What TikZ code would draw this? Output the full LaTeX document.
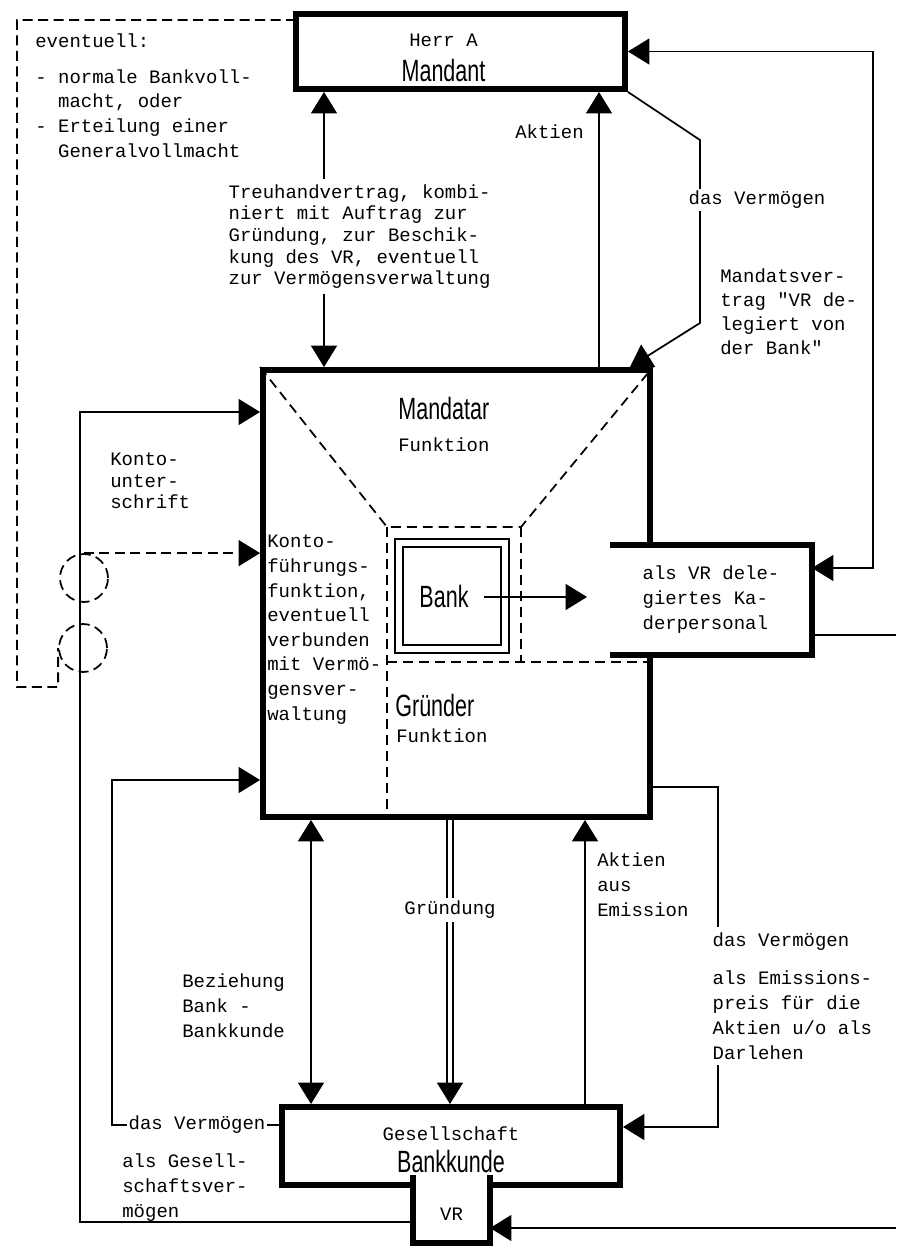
\documentclass[tikz,border=0pt]{standalone}
\usepackage{fontspec}
\setmainfont{Liberation Mono}[Ligatures=TeXOff]
\newfontfamily\condsans[FakeStretch=0.7]{Liberation Sans}
\usetikzlibrary{positioning, arrows.meta, calc}
\newcommand{\sansbig}{\condsans\fontsize{17.5}{20}\selectfont}
\tikzset{
  box/.style  = {rectangle, draw, line width=3.4pt, inner sep=0pt},
  open/.style = {rectangle, draw=none, fill=white, inner sep=0pt, outer sep=0pt},
  rim/.style  = {line width=3.4pt},
  txt/.style  = {inner sep=0pt, align=left, font=\fontsize{10.8}{14.2}\selectfont},
  lbl/.style  = {txt, fill=white, inner sep=3pt},
  ln/.style   = {line width=1pt},
  dsh/.style  = {line width=1pt, dash pattern=on 0.2cm off 0.11cm},
  ar/.style   = {-{Triangle[length=0.43cm,width=0.52cm]}, line width=1pt},
  bar/.style  = {{Triangle[length=0.43cm,width=0.52cm]}-{Triangle[length=0.43cm,width=0.52cm]}, line width=1pt},
  dar/.style  = {ar, dsh},
  zone/.style = {line width=1pt, dash pattern=on 0.2cm off 0.12cm},
  ring/.style = {circle, draw, dsh, minimum size=0.96cm, inner sep=0pt},
  bankbox/.style = {rectangle, draw, double, double distance=0.12cm, line width=1pt,
                    inner sep=0pt, minimum width=2.13cm, minimum height=2.12cm},
  dbl/.style  = {double, double distance=0.08cm, line width=1pt},
}
\begin{document}
\begin{tikzpicture}[x=0.02cm, y=-0.02cm]
  \useasboundingbox (0,0) rectangle (896,1247);

  % Mandant
  \node[box, minimum width=6.58cm, minimum height=1.5cm] (herr) at (460.5,51.5) {};
  \node[txt, align=center] (herrtxt) at ($(herr.center)+(-17,6)$)
       {Herr A\\[0.2cm]{\sansbig Mandant}};

  % Bank as Mandatar / Gruender
  \node[box, minimum width=7.74cm, minimum height=8.94cm] (main) at (456.5,593.5) {};
  \coordinate (zl) at (387,527);
  \coordinate (zr) at (521,527);
  \coordinate (zb) at (387,662);
  \draw[zone] (main.north west) -- (zl) -- (zr) -- (main.north east);
  \draw[zone] (zl) -- (zl |- main.south);
  \draw[zone] (zr) -- (zr |- zb);
  \draw[zone] (zb) -- (zb -| main.east);

  \node[open, txt, minimum width=4.04cm, minimum height=2.2cm] (kader) at (711,600)
       {als VR dele-\\giertes Ka-\\derpersonal};
  \draw[rim] (kader.north west) -- (kader.north east) -- (kader.south east) -- (kader.south west);

  \node[bankbox] (bank) at (452,596) {};
  \node[font=\sansbig, inner sep=0pt] (banktxt) at (444,597) {Bank};
  \coordinate (banktip) at (587,597);
  \draw[ar, shorten <=0.3cm] (banktxt.east) -- (banktip);

  \node[txt, font=\sansbig, anchor=north west] (mandatar) at (398,397) {Mandatar};
  \node[txt, anchor=north west] (mfunk) at (398,437) {Funktion};
  \node[txt, font=\sansbig, anchor=north west] (gruender) at (395,694) {Gründer};
  \node[txt, anchor=north west] (gfunk) at (396,728) {Funktion};
  \node[txt, anchor=north west, font=\fontsize{10.8}{14}\selectfont] (kontof) at (267,535)
       {Konto-\\führungs-\\funktion,\\eventuell\\verbunden\\mit Vermö-\\gensver-\\waltung};

  % Gesellschaft
  \node[box, minimum width=6.76cm, minimum height=1.56cm] (ges) at (451,1146) {};
  \node[txt, align=center] (gestxt) at ($(ges.center)+(0,4)$)
       {Gesellschaft\\[0.14cm]{\sansbig Bankkunde}};
  \node[open, txt, minimum width=1.54cm, minimum height=1.16cm] (vr) at (451.5,1214) {VR};
  \draw[white, line width=4pt] (vr.north west) -- (vr.north east);
  \draw[rim] ($(vr.north west)+(0,-10)$) -- (vr.south west) -- (vr.south east) -- ($(vr.north east)+(0,-10)$);

  % top
  \node[txt, anchor=north west] (evtl) at (35,33)
       {eventuell:\\[0.22cm]- normale Bankvoll-\\\hphantom{xx}macht, oder\\- Erteilung einer\\\hphantom{xx}Generalvollmacht};
  \coordinate (evA) at (17,20);
  \coordinate (evB) at (17,687);
  \node[ring] (ring1) at (84,578) {};
  \node[ring] (ring2) at (83,648) {};
  \draw[dsh] ($(herr.north west)+(3,9)$) -- (evA) -- (evB) -| (ring2.west);
  \draw[dar] (ring1.north) -- (ring1.north -| main.west);

  \coordinate (treuX) at (324,200);
  \draw[bar] (treuX |- herr.south) -- (treuX |- main.north);
  \node[lbl, anchor=north west, font=\fontsize{10.8}{12.3}\selectfont] (treu) at (223,179)
       {Treuhandvertrag, kombi-\\niert mit Auftrag zur\\Gründung, zur Beschik-\\kung des VR, eventuell\\zur Vermögensverwaltung};

  \coordinate (aktT) at (599,200);
  \draw[ar] (aktT |- main.north) -- (aktT |- herr.south);
  \node[txt, anchor=east] (aktien) at (584,132) {Aktien};

  \coordinate (vA) at (700,140);
  \coordinate (vB) at (700,323);
  \draw[ar] (herr.south east) -- (vA) -- (vB) -- ($(main.north east)+(-23,0)$);
  \node[lbl, inner sep=1pt] (vermT) at (757,200) {das Vermögen};
  \node[txt, anchor=north west, font=\fontsize{10.8}{13.8}\selectfont] (mandats) at (720,268)
       {Mandatsver-\\trag "VR de-\\legiert von\\der Bank"};

  \coordinate (rB) at (873,568);
  \draw[bar] (herr.east) -| (rB) -- (rB -| kader.east);
  \coordinate (edgeK) at (896,635);
  \draw[ln] (edgeK -| kader.east) -- (edgeK);

  % left
  \coordinate (kontoC) at (80,412);
  \draw[ar] ($(vr.west)+(0,8)$) -| (kontoC) -- (kontoC -| main.west);
  \node[txt, anchor=north west, font=\fontsize{10.8}{12}\selectfont] (kontou) at (110,453)
       {Konto-\\unter-\\schrift};

  \coordinate (vermC) at (112,780);
  \draw[ar] ($(ges.west)+(0,-21)$) -| (vermC) -- (vermC -| main.west);
  \node[lbl, inner sep=1pt] (vermL) at (197,1125) {das Vermögen};
  \node[txt, anchor=north west] (alsges) at (122,1153) {als Gesell-\\schaftsver-\\mögen};

  % bottom
  \coordinate (bezX) at (311,900);
  \draw[bar] (bezX |- main.south) -- (bezX |- ges.north);
  \node[txt, anchor=north west] (bez) at (182,973) {Beziehung\\Bank -\\Bankkunde};

  \coordinate (gruX) at (450,910);
  \draw[dbl] (gruX |- main.south) -- ($(gruX |- ges.north)+(0,-18)$);
  \draw[ar] ($(gruX |- ges.north)+(0,-21)$) -- (gruX |- ges.north);
  \node[lbl, inner sep=2pt] (gruend) at (gruX) {Gründung};

  \coordinate (aktX) at (585,900);
  \draw[ar] (aktX |- ges.north) -- (aktX |- main.south);
  \node[txt, anchor=north west] (aktem) at (597,852) {Aktien\\aus\\Emission};

  \coordinate (emiA) at (718,787);
  \coordinate (emiB) at (718,1127);
  \draw[ar] (emiA -| main.east) -- (emiA) -- (emiB) -- (emiB -| ges.east);
  \node[lbl, anchor=north west] (emis) at (707,927)
       {das Vermögen\\[0.26cm]als Emissions-\\preis für die\\Aktien u/o als\\Darlehen};

  \coordinate (edgeV) at (896,1228);
  \draw[ar] (edgeV) -- (edgeV -| vr.east);

\end{tikzpicture}
\end{document}
